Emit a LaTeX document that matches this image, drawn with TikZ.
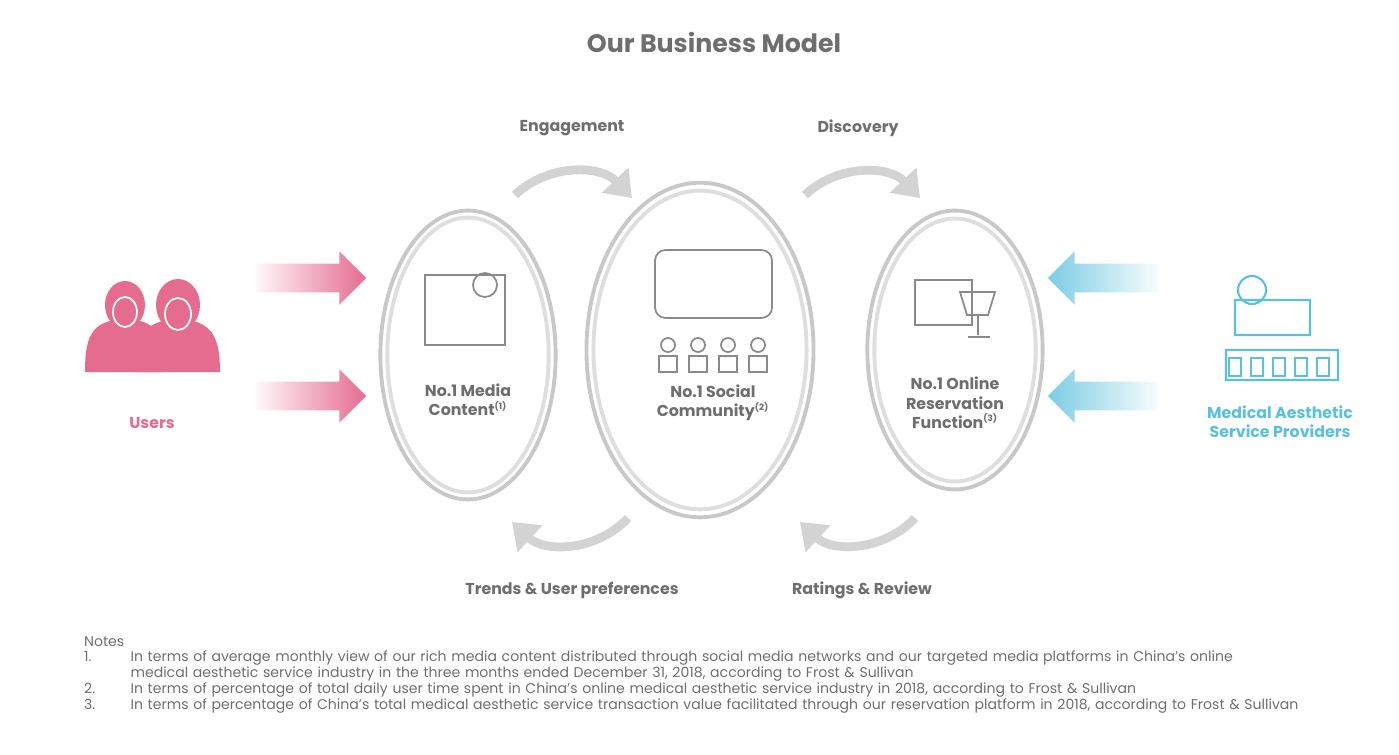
\documentclass[tikz,border=0pt]{standalone}
\usepackage{fontspec}
\setmainfont{Poppins}
\usetikzlibrary{arrows.meta,shapes.geometric,shapes.arrows,positioning}
\definecolor{txtgray}{HTML}{6E6E6E}
\definecolor{ringgray}{HTML}{C8C8C8}
\definecolor{upink}{HTML}{E56B8F}
\definecolor{sblue}{HTML}{5BC0DE}
\definecolor{icgray}{HTML}{8A8A8A}
\newcommand{\noteitem}[1]{\makebox[3.3em][l]{#1}}
\tikzset{
  ring/.style = {draw=ringgray, line width=2.2pt, ellipse, fill=white},
  hub/.style = {font=\bfseries\small, text=txtgray, align=center},
  flow/.style = {font=\bfseries\small, text=txtgray},
  loop/.style = {draw=ringgray!80, line width=5pt, -{Triangle[length=14pt,width=20pt]}},
  push/.style = {single arrow, single arrow head extend=0.25cm, minimum height=2.2cm, inner sep=0.28cm, draw=none},
  note/.style = {font=\fontsize{8}{9}\selectfont, text=txtgray, anchor=north west, align=left}
}
\begin{document}
\begin{tikzpicture}[x=0.02cm, y=-0.02cm]
\useasboundingbox (0,0) rectangle (1399,754);
\node[font=\bfseries\Large, text=txtgray] (title) at (714,42) {Our Business Model};
% three rings
\node[ring, minimum width=176*0.5669pt, minimum height=290*0.5669pt] at (468,355) {};
\node[ring, minimum width=162*0.5669pt, minimum height=276*0.5669pt, draw=ringgray!60] (media) at (468,355) {};
\node[ring, minimum width=228*0.5669pt, minimum height=336*0.5669pt] (social) at (700,350) {};
\node[ring, minimum width=214*0.5669pt, minimum height=320*0.5669pt, draw=ringgray!60] at (700,350) {};
\node[ring, minimum width=176*0.5669pt, minimum height=280*0.5669pt] (online) at (955,350) {};
\node[ring, minimum width=162*0.5669pt, minimum height=264*0.5669pt, draw=ringgray!60] at (955,350) {};
\node[hub] (medialbl) at (468,400) {No.1 Media\\Content\textsuperscript{\tiny(1)}};
\node[hub] (sociallbl) at (713,403) {No.1 Social\\Community\textsuperscript{\tiny(2)}};
\node[hub] (onlinelbl) at (955,403) {No.1 Online\\Reservation\\Function\textsuperscript{\tiny(3)}};
% icons (simplified)
\draw[icgray, line width=1pt] (425,275) rectangle (505,345);
\draw[icgray, line width=1pt] (485,285) circle (12);
\draw[icgray, line width=1pt, rounded corners=6pt] (655,250) rectangle (772,318);
\foreach \x in {668,698,728,758}
  \draw[icgray, line width=1pt] (\x,345) circle (7) (\x-9,372) rectangle (\x+9,356);
\draw[icgray, line width=1pt] (915,280) rectangle (972,325);
\draw[icgray, line width=1pt] (960,292) -- (995,292) -- (988,315) -- (967,315) -- cycle (978,315) -- (978,335) (968,337) -- (990,337);
% flow arrows
\coordinate (e1) at (515,195); \coordinate (e2) at (632,198);
\coordinate (d1) at (805,195); \coordinate (d2) at (920,198);
\coordinate (t1) at (628,518); \coordinate (t2) at (512,522);
\coordinate (r1) at (915,518); \coordinate (r2) at (800,522);
\draw[loop] (e1) to[bend left=45] (e2);
\draw[loop] (d1) to[bend left=45] (d2);
\draw[loop] (t1) to[bend left=45] (t2);
\draw[loop] (r1) to[bend left=45] (r2);
\node[flow] (eng) at (572,128) {Engagement};
\node[flow] (dis) at (858,128) {Discovery};
\node[flow] (trend) at (572,590) {Trends \& User preferences};
\node[flow] (rate) at (862,590) {Ratings \& Review};
% side arrows
\node[push, left color=upink!5, right color=upink] (pu1) at (304,278) {};
\node[push, left color=upink!5, right color=upink] (pu2) at (304,396) {};
\node[push, shape border rotate=180, right color=sblue!5, left color=sblue!80] (pb1) at (1110,278) {};
\node[push, shape border rotate=180, right color=sblue!5, left color=sblue!80] (pb2) at (1110,396) {};
% users
\fill[upink] (85,372) .. controls (85,330) and (95,322) .. (125,318) .. controls (155,322) and (165,330) .. (165,372) -- cycle;
\fill[upink] (135,372) .. controls (135,330) and (148,322) .. (178,318) .. controls (208,322) and (220,330) .. (220,372) -- cycle;
\fill[upink] (125,305) ellipse (20 and 24);
\fill[upink] (178,305) ellipse (22 and 26);
\draw[white, line width=1pt] (125,312) ellipse (12 and 15) (178,314) ellipse (13 and 16);
\node[font=\bfseries\small, text=upink] (users) at (152,423) {Users};
% providers
\draw[sblue, line width=1.2pt] (1235,300) rectangle (1310,335) (1252,290) circle (14) (1226,350) rectangle (1338,380);
\foreach \x in {1235,1257,1279,1301,1323}
  \draw[sblue, line width=1pt] (\x-6,358) rectangle (\x+6,376);
\node[font=\bfseries\small, text=sblue, align=center] (prov) at (1280,422) {Medical Aesthetic\\Service Providers};
% notes
\node[note] (notes) at (78,630) {Notes};
\node[note, text width=25cm] at (78,645) {\noteitem{1.}In terms of average monthly view of our rich media content distributed through social media networks and our targeted media platforms in China's online\\\noteitem{}medical aesthetic service industry in the three months ended December 31, 2018, according to Frost \& Sullivan\\
\noteitem{2.}In terms of percentage of total daily user time spent in China's online medical aesthetic service industry in 2018, according to Frost \& Sullivan\\
\noteitem{3.}In terms of percentage of China's total medical aesthetic service transaction value facilitated through our reservation platform in 2018, according to Frost \& Sullivan};
\end{tikzpicture}
\end{document}
